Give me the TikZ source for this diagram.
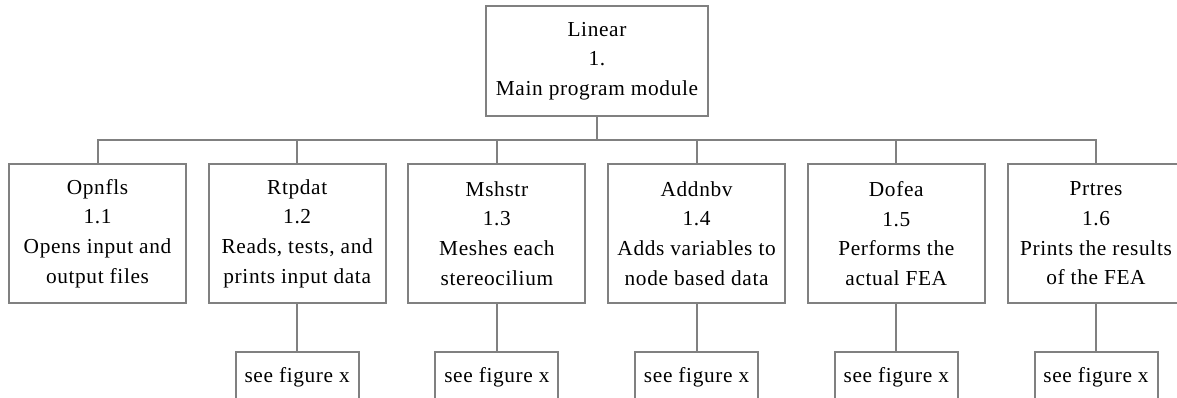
\documentclass[tikz,border=0pt]{standalone}
\usepackage{fontspec}
\setmainfont{Liberation Serif}[LetterSpace=3]
\tikzset{
  modbox/.style = {draw = gray, line width = 1.5pt, align = center, inner sep = 0pt,
                   font = \fontsize{16}{22.2}\selectfont},
  subbox/.style = {modbox, minimum width = 132.75pt, minimum height = 104.25pt},
  seebox/.style = {modbox, minimum width = 92.25pt, minimum height = 37.5pt},
  link/.style   = {draw = gray, line width = 1.5pt}
}
\begin{document}
\begin{tikzpicture}[x = 0.75pt, y = -0.75pt]
\clip (0, 0) rectangle (1177, 398);

\node[modbox, minimum width = 166.5pt, minimum height = 82.5pt] at (597, 61) (main)
  {Linear\\1.\\Main program module};

\node[subbox] at (97.5, 233.5) (opnfls)  {Opnfls\\1.1\\Opens input and\\output files};
\node[subbox] at (297.2, 233.5) (rtpdat) {Rtpdat\\1.2\\Reads, tests, and\\prints input data};
\node[subbox] at (496.9, 233.5) (mshstr) {Mshstr\\1.3\\Meshes each\\stereocilium};
\node[subbox] at (696.6, 233.5) (addnbv) {Addnbv\\1.4\\Adds variables to\\node based data};
\node[subbox] at (896.3, 233.5) (dofea)  {Dofea\\1.5\\Performs the\\actual FEA};
\node[subbox] at (1096, 233.5) (prtres)  {Prtres\\1.6\\Prints the results\\of the FEA};

\node[seebox] at (297.2, 377) (rtpdatx) {see figure x};
\node[seebox] at (496.9, 377) (mshstrx) {see figure x};
\node[seebox] at (696.6, 377) (addnbvx) {see figure x};
\node[seebox] at (896.3, 377) (dofeax)  {see figure x};
\node[seebox] at (1096, 377) (prtresx)  {see figure x};

\coordinate (bus) at (597, 140);
\draw[link] (main.south) -- (bus);
\draw[link] (bus) -| (opnfls.north);
\draw[link] (bus) -| (rtpdat.north);
\draw[link] (bus) -| (mshstr.north);
\draw[link] (bus) -| (addnbv.north);
\draw[link] (bus) -| (dofea.north);
\draw[link] (bus) -| (prtres.north);

\draw[link] (rtpdat) edge (rtpdatx);
\draw[link] (mshstr) edge (mshstrx);
\draw[link] (addnbv) edge (addnbvx);
\draw[link] (dofea) edge (dofeax);
\draw[link] (prtres) edge (prtresx);

\end{tikzpicture}
\end{document}
